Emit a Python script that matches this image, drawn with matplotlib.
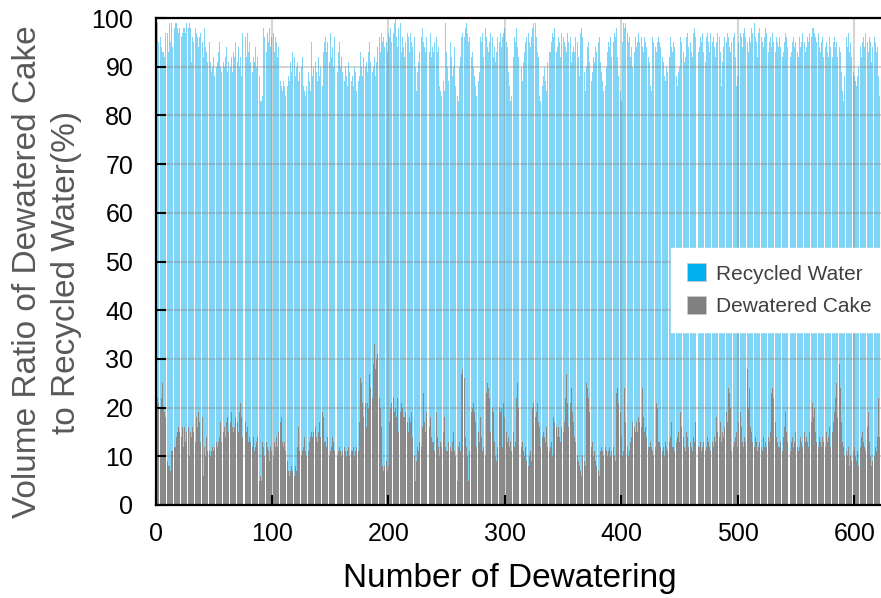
import numpy as np
import matplotlib
matplotlib.use("Agg")
from matplotlib import pyplot as plt
from matplotlib.patches import Patch

# dewatered cake share (%) per dewatering run
cake = [
    17, 22, 21, 20, 22, 25, 20, 19, 18,
    9, 8, 8, 7,
    11, 11, 12,
    12, 14, 15, 16, 15, 14, 16, 12,
    16, 13, 15, 16, 10, 15, 14, 16,
    15, 13, 18, 16, 19, 17, 13, 18, 6, 12, 10, 14,
    11, 11, 10, 11, 12, 11, 12, 13,
    12, 13, 14, 17, 13, 15, 16, 14, 17, 18, 15, 17, 19, 16, 15,
    16, 18, 17, 15, 19, 21, 18, 14, 20, 17, 15, 16, 13, 14,
    13, 12, 14, 11, 12, 13, 14,
    5, 6, 5,
    13, 12, 10, 13, 12, 11, 9, 12, 11, 10,
    13, 12, 14, 12, 15, 17, 18, 13, 12, 13, 11,
    9, 7, 6, 7, 8, 7, 6, 8, 7,
    12, 16, 11, 10, 11, 12, 14, 11, 10, 11, 13,
    14, 15, 14, 15, 16, 14, 13, 15, 17, 14, 19, 18,
    13, 13, 12, 14, 10, 11, 12, 14, 13, 11, 12,
    10, 11, 12, 11, 10, 11, 12, 11, 10, 11, 12, 10, 11, 11, 12, 10, 11, 12, 11, 17,
    26, 25, 21, 18, 21, 16, 21, 20, 27, 24, 22, 29, 33, 28, 30, 31, 22, 20, 16,
    8, 7, 8, 9, 7, 8,
    17, 20, 21, 22, 19, 20, 18, 22, 15,
    19, 21, 20, 18, 18, 19, 17, 15, 18, 17, 19, 14,
    10, 5, 9, 12, 11,
    13, 12, 16, 23, 17, 15,
    19, 17, 16, 18, 14, 13,
    13, 11, 19, 14, 12, 10, 13, 12,
    15, 18, 12, 11, 11, 13,
    12, 11, 13, 15, 11, 10, 5, 12, 13, 11,
    27, 28, 26, 14,
    12, 10, 5, 11,
    19, 20, 21, 19, 17, 12, 15, 13,
    18, 14, 11, 12, 10,
    23, 25, 24, 22, 15,
    20, 19, 13, 10, 9, 12, 20, 19, 20, 12, 21, 18,
    15, 13, 14, 12, 13, 11, 15, 12, 13,
    22, 25, 20,
    14, 12, 13, 11, 10, 12, 9, 8, 10, 11, 9,
    20, 21, 18, 19, 21, 17, 16, 12, 14,
    15, 14, 13, 16, 12, 11, 12, 13, 10,
    18, 17, 16, 14, 16,
    14, 13, 16, 15, 17, 22, 27, 21, 16,
    21, 24, 19, 17, 14, 13,
    10, 9, 8, 7, 6, 10, 9,
    8, 25, 24, 22, 19,
    12, 13, 10, 11, 9, 8, 7, 6,
    11, 12, 11, 10, 12, 11, 10, 11, 12, 10, 11, 12, 10, 9,
    23, 24, 21,
    19, 14, 10, 11, 24, 17, 12, 10, 11, 13, 14,
    17, 16, 15, 17, 15, 18,
    17, 16, 24, 18, 15, 16, 14, 12, 12,
    13, 12, 11, 10, 12, 21, 20, 13,
    13, 12, 11, 12, 10, 13, 12, 11, 13, 14, 17, 12,
    12, 11, 13, 14, 15, 13, 19, 16, 14, 12, 11,
    15, 14, 12, 13, 12, 11, 14, 13, 17, 14, 12,
    12, 13, 11, 12, 13, 11, 12, 14, 13, 12, 11, 13, 12, 14, 13,
    18, 15, 14, 17, 13, 15, 14, 16, 19, 17, 24, 23, 20,
    11, 12, 13, 14, 15, 12, 17, 19, 16, 13, 12, 14, 13,
    28, 20,
    24, 16, 15, 13, 12, 14, 13, 11, 12, 13, 12, 11, 14, 12, 13, 12, 14, 13, 15, 23,
    24, 22, 17, 14, 13, 12,
    12, 13, 11, 14, 16, 19, 15, 13, 12, 11, 13, 14, 12, 13, 15, 12, 11, 12, 14, 13, 12, 15, 13,
    14, 13, 12, 15, 17, 21, 18, 20, 15, 13, 12, 14, 13, 12, 14, 13, 12,
    15, 13, 14, 16, 12, 15, 17, 19, 22, 25, 18, 29, 24, 17, 13, 12, 10,
    11, 10, 12, 8, 10, 9, 11, 12, 10, 9, 11, 8,
    12, 14, 15, 13, 12, 11, 16, 19, 13, 10, 8,
    9, 10, 12, 11, 14, 22, 14,
]

# top of each stacked bar (cake + recycled water, %)
total = [
    95, 99, 95, 96, 94, 93,
    93, 92, 97, 97, 93,
    99, 95, 99, 94, 98, 99,
    99, 98, 97, 98, 96, 97,
    98, 98, 97, 99, 98, 99, 98, 91, 96, 95, 98,
    97, 96, 94, 96, 97, 95, 92, 98, 94, 93, 91, 95,
    91, 89, 90, 92, 88, 90, 91, 93,
    95, 90, 89, 91, 90, 92, 94, 89, 91, 90, 92, 89,
    93, 92, 95, 91, 94, 90, 92, 88,
    97, 94, 96, 92, 97, 93, 95, 91, 89,
    92, 91, 94, 90, 92, 88,
    83, 83, 84,
    98, 96, 93, 97, 95, 98, 94, 96, 97, 93, 96, 95, 92, 94,
    87, 86, 85, 87, 86, 84, 86, 88, 87,
    91, 89, 93, 92, 88, 90, 91, 87, 89, 90, 92,
    86, 85, 84, 86, 89, 87, 85, 95, 88,
    90, 91, 89, 87, 92, 88, 90, 86, 93, 95, 96,
    93, 95, 91, 97, 92, 94, 90, 96, 91, 89, 93, 95, 90, 92,
    89, 87, 90, 88, 86, 91, 89, 87, 88, 86, 90, 89, 85, 87, 88, 93, 90, 88,
    92, 90, 91, 89, 93, 95, 91, 89, 90, 92, 88, 91, 94, 96, 93, 97, 95,
    96, 94, 95, 93, 97, 96, 98, 95, 97, 99, 100, 96, 94, 98,
    99, 93, 96, 94, 92, 95, 97, 96, 93,
    97, 95, 94, 96, 90, 85, 89, 91, 93, 96, 98,
    95, 94, 93, 96, 95, 93, 97, 92, 94, 93, 95, 96, 93, 94,
    86, 85, 84, 87, 85,
    99,
    93, 90, 87, 95, 92, 88, 90, 94, 86, 84, 83,
    90, 92, 96, 97, 96, 98, 99, 97, 95, 96, 92, 93, 90, 88, 86, 84, 87, 89,
    96, 95, 97, 92, 98, 96, 94, 93, 95, 97, 96, 92, 94, 91, 93, 96, 95, 97, 94, 96, 97, 98,
    95, 94, 89, 86, 83, 84, 92, 96, 95,
    98, 94, 92, 89, 90, 87, 91, 93, 95,
    96, 97, 95, 94, 96, 98, 99, 99, 96, 93, 92,
    84, 83, 86, 88, 90, 87, 85, 91, 93,
    93, 95, 97, 96, 98, 93, 94, 96, 95, 92, 97, 96, 95, 94, 93, 97, 95, 96, 91, 93,
    94, 93, 96, 95, 92, 88, 97, 98, 96, 89, 85, 90, 94, 95, 91, 87, 89,
    92, 91, 94, 93, 95, 96, 91, 89, 87, 85, 86, 90, 93, 95, 94, 96, 92,
    95, 97, 96, 98, 92, 88, 85, 83, 95, 99, 98,
    99, 97, 95, 96, 92, 94, 90, 93, 96, 94, 95, 97,
    95, 96, 94, 93, 96, 95, 94, 92, 91,
    86, 85,
    96, 95, 94, 93, 95, 96, 95, 94, 92, 91, 88, 87, 90, 89, 92, 96, 94, 93,
    95, 94, 88, 86, 89, 90, 96, 95, 93, 91, 92,
    96, 97, 94, 95, 93, 92, 97, 98, 96, 95, 93, 94, 96, 95, 97, 93, 91,
    96, 97, 95, 93, 97, 95, 96, 94, 92, 95, 97, 96, 93, 86, 91, 94, 96, 95, 97, 96, 94, 93, 95, 96, 97, 92,
    86, 88, 95, 97, 96, 94, 97, 98, 96, 95, 93,
    96, 95, 98, 97, 99, 96, 95, 92, 97, 98, 96, 95, 94, 96, 98, 97, 93, 95, 96, 94, 97, 95, 93, 96, 95, 94,
    96, 94, 92, 93, 95, 97, 96, 94, 90, 92, 93, 95, 96, 94, 95, 93, 92, 96, 94, 95, 97, 95, 93, 94, 96, 95, 97, 96, 98,
    98, 97, 96, 95, 97, 94, 93, 95, 96, 92, 94, 95, 93, 92, 96, 94, 92,
    95, 96, 94, 95, 92, 94, 93, 89, 85, 83, 88,
    96, 94, 97, 93, 95, 92, 89, 88, 87, 86, 88, 90,
    94, 92, 95, 96, 94, 97, 95, 93, 96, 95, 91, 94, 96, 95, 93, 94, 88, 84,
]

series_names = ["Recycled Water", "Dewatered Cake"]
x_ticks = [0, 100, 200, 300, 400, 500, 600]
y_ticks = [0, 10, 20, 30, 40, 50, 60, 70, 80, 90, 100]

cake = np.array(cake, dtype=float)
water = np.array(total, dtype=float) - cake
runs = np.arange(1, len(cake) + 1)

plt.rcParams['font.family'] = ['Liberation Sans', 'DejaVu Sans']

fig = plt.figure(figsize=(8.81, 5.98), dpi=100)
ax = fig.add_axes([155.5 / 881, 1 - 505 / 598, 725.5 / 881, 487 / 598])

ax.bar(runs, cake, width=0.85, color='#8a8a8a', linewidth=0, zorder=2)
ax.bar(runs, water, bottom=cake, width=0.85, color='#80d4f5', linewidth=0, zorder=2)

ax.set_xlim(0, 623)
ax.set_ylim(0, 100)
ax.set_xticks(x_ticks)
ax.set_yticks(y_ticks)
ax.grid(True, color='#888888', alpha=0.35, linewidth=1.5, zorder=3)
ax.set_axisbelow(False)
ax.tick_params(direction='in', length=7, width=1.5, labelsize=18, colors='black')
ax.tick_params(axis='x', pad=12)
ax.tick_params(axis='y', pad=16)
for s in ['left', 'bottom', 'top']:
    ax.spines[s].set_linewidth(1.6)
    ax.spines[s].set_zorder(5)
ax.spines['right'].set_visible(False)

# legend patches use the solid series colours, as in the original
handles = [Patch(facecolor='#00b0f0', edgecolor='#cccccc', linewidth=0.6),
           Patch(facecolor='#808080', edgecolor='#cccccc', linewidth=0.6)]
leg = ax.legend(handles, series_names, loc='upper left', bbox_to_anchor=(0.7106, 0.528),
                borderaxespad=0, frameon=True, fancybox=False, framealpha=1,
                edgecolor='white', fontsize=15, handlelength=0.95, handleheight=0.95,
                handletextpad=0.45, borderpad=0.75, labelspacing=0.6)
leg.set_zorder(10)
for t in leg.get_texts():
    t.set_color('#404040')

fig.text(47 / 881, 1 - 272 / 598, "Volume Ratio of Dewatered Cake\nto Recycled Water(%)",
         rotation=90, ha='center', va='center', fontsize=24, color='#595959',
         linespacing=1.3)
fig.text(510 / 881, 1 - 578 / 598, "Number of Dewatering", ha='center', va='center',
         fontsize=24, color='black')

fig.savefig("out.png", dpi=100)
